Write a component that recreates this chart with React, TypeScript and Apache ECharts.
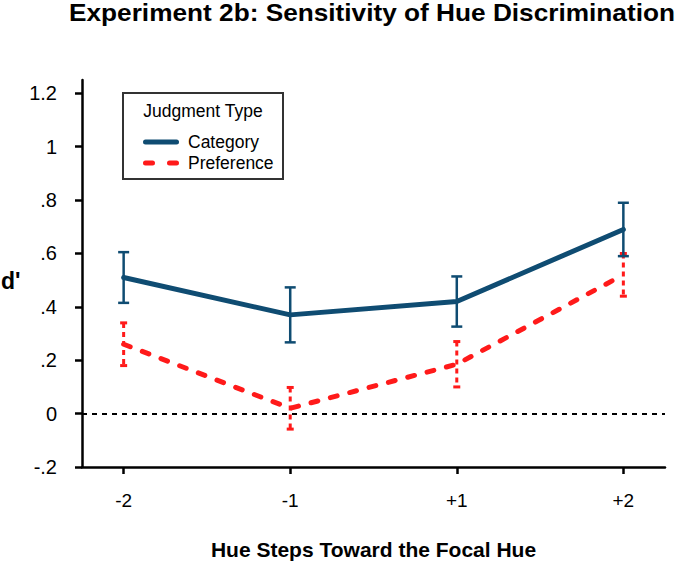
import React, { useEffect, useRef } from "react";
import * as echarts from "echarts";

const categories = ["-2", "-1", "+1", "+2"];
const categoryMeans = [0.51, 0.37, 0.42, 0.69];
const categoryErrors = [0.095, 0.103, 0.094, 0.1];
const preferenceMeans = [0.26, 0.02, 0.185, 0.52];
const preferenceErrors = [0.08, 0.078, 0.085, 0.08];
const yTicks = [-0.2, 0, 0.2, 0.4, 0.6, 0.8, 1.0, 1.2];
const yTickLabels = ["-.2", "0", ".2", ".4", ".6", ".8", "1", "1.2"];
const titleText = "Experiment 2b: Sensitivity of Hue Discrimination";
const yAxisTitle = "d'";
const xAxisTitle = "Hue Steps Toward the Focal Hue";

const FONT = '"Liberation Sans", Arial, Helvetica, sans-serif';
const BLUE = "#0f4c72";
const RED = "#ff1a1a";

const DASH_ICON =
  "path://M2.5,0h7a2.5,2.5,0,0,1,0,5h-7a2.5,2.5,0,0,1,0,-5zM26.5,0h7a2.5,2.5,0,0,1,0,5h-7a2.5,2.5,0,0,1,0,-5z";
const SOLID_ICON = "path://M2.5,0h31a2.5,2.5,0,0,1,0,5h-31a2.5,2.5,0,0,1,0,-5z";

function measure(text: string, font: string): number {
  const c = document.createElement("canvas").getContext("2d");
  if (!c) return 0;
  c.font = font;
  return c.measureText(text).width;
}

export default function App() {
  const ref = useRef<HTMLDivElement>(null);
  useEffect(() => {
    document.body.style.margin = "0";
    const chart = echarts.init(ref.current!, null, { renderer: "svg" });
    const xIdx = categories.map((_, i) => i);

    const titleSize = 23;
    const tw = measure(titleText, `bold ${titleSize}px ${FONT}`);
    const titleScale = tw > 0 ? Math.min(1.3, Math.max(0.9, 606 / tw)) : 1.1;

    const errBar = (color: string, dashed: boolean, capW: number) =>
      (params: any, api: any) => {
        const x = api.value(0);
        const top = api.coord([x, api.value(2)]);
        const bot = api.coord([x, api.value(1)]);
        const style: any = {
          stroke: color,
          lineWidth: dashed ? 3 : 2.5,
          lineDash: dashed ? [5, 4] : null,
        };
        return {
          type: "group",
          children: [
            { type: "line", shape: { x1: top[0], y1: top[1], x2: bot[0], y2: bot[1] }, style },
            { type: "line", shape: { x1: top[0] - capW / 2, y1: top[1], x2: top[0] + capW / 2, y2: top[1] }, style: { ...style, lineDash: null } },
            { type: "line", shape: { x1: bot[0] - capW / 2, y1: bot[1], x2: bot[0] + capW / 2, y2: bot[1] }, style: { ...style, lineDash: null } },
          ],
        };
      };

    chart.setOption({
      animation: false,
      textStyle: { fontFamily: FONT },
      grid: { left: 82, right: 15, top: 80, bottom: 97, outerBoundsMode: "none", containLabel: false },
      xAxis: {
        type: "value",
        min: -0.25,
        max: 3.25,
        name: xAxisTitle,
        nameLocation: "middle",
        nameGap: 72,
        nameTextStyle: { fontFamily: FONT, fontSize: 21, fontWeight: "bold", color: "#000" },
        splitLine: { show: false },
        axisLine: { onZero: false, lineStyle: { color: "#000", width: 2.5 } },
        axisTick: { customValues: xIdx, length: 7, lineStyle: { color: "#000", width: 2.5 } },
        axisLabel: {
          customValues: xIdx,
          margin: 24,
          fontSize: 19,
          color: "#000",
          fontFamily: FONT,
          formatter: (v: number) => categories[Math.round(v)] ?? "",
        },
      },
      yAxis: {
        type: "value",
        min: -0.2,
        max: 1.25,
        splitLine: { show: false },
        axisLine: { show: true, onZero: false, lineStyle: { color: "#000", width: 2.5 } },
        axisTick: { show: true, customValues: yTicks, length: 7, lineStyle: { color: "#000", width: 2.5 } },
        axisLabel: {
          customValues: yTicks,
          margin: 25,
          fontSize: 20,
          color: "#000",
          fontFamily: FONT,
          formatter: (v: number) => {
            const i = yTicks.findIndex((t) => Math.abs(t - v) < 1e-6);
            return i >= 0 ? yTickLabels[i] : "";
          },
        },
      },
      legend: {
        orient: "vertical",
        left: 138,
        top: 128,
        itemWidth: 36,
        itemHeight: 5,
        itemGap: 3,
        textStyle: { fontFamily: FONT, fontSize: 17.5, color: "#000", lineHeight: 18, padding: [0, 0, 0, 4] },
        data: [
          { name: "Category", icon: SOLID_ICON, itemStyle: { color: BLUE } },
          { name: "Preference", icon: DASH_ICON, itemStyle: { color: RED } },
        ],
      },
      graphic: [
        {
          type: "text",
          x: 69,
          y: 13,
          scaleX: titleScale,
          style: {
            text: titleText,
            fontFamily: FONT,
            fontSize: titleSize,
            fontWeight: "bold",
            fill: "#000",
            textAlign: "left",
            textVerticalAlign: "middle",
          },
        },
        {
          type: "text",
          x: 1,
          y: 281,
          style: {
            text: yAxisTitle,
            fontFamily: FONT,
            fontSize: 23,
            fontWeight: "bold",
            fill: "#000",
            textAlign: "left",
            textVerticalAlign: "middle",
          },
        },
        {
          type: "rect",
          shape: { x: 123, y: 93, width: 160, height: 86 },
          style: { fill: "#fff", stroke: "#333", lineWidth: 2 },
          z: -1,
        },
        {
          type: "text",
          x: 203,
          y: 111,
          style: {
            text: "Judgment Type",
            fontFamily: FONT,
            fontSize: 17.5,
            fill: "#000",
            textAlign: "center",
            textVerticalAlign: "middle",
          },
        },
      ],
      series: [
        {
          name: "Preference",
          type: "line",
          data: preferenceMeans.map((v, i) => [i, v]),
          symbol: "none",
          color: RED,
          lineStyle: { color: RED, width: 5, type: [7, 13], cap: "round" },
          markLine: {
            silent: true,
            symbol: "none",
            label: { show: false },
            lineStyle: { color: "#000", type: [5, 5], width: 2 },
            data: [{ yAxis: 0 }],
          },
          z: 3,
        },
        {
          name: "Category",
          type: "line",
          data: categoryMeans.map((v, i) => [i, v]),
          symbol: "none",
          color: BLUE,
          lineStyle: { color: BLUE, width: 5, cap: "round" },
          z: 4,
        },
        {
          name: "PrefErr",
          type: "custom",
          renderItem: errBar(RED, true, 7),
          data: preferenceMeans.map((v, i) => [i, v - preferenceErrors[i], v + preferenceErrors[i]]),
          z: 3,
        },
        {
          name: "CatErr",
          type: "custom",
          renderItem: errBar(BLUE, false, 11),
          data: categoryMeans.map((v, i) => [i, v - categoryErrors[i], v + categoryErrors[i]]),
          z: 5,
        },
      ],
    });
    return () => chart.dispose();
  }, []);
  return (
    <div
      ref={ref}
      style={{ position: "absolute", left: 0, top: 0, width: 680, height: 564, background: "#fff" }}
    />
  );
}
